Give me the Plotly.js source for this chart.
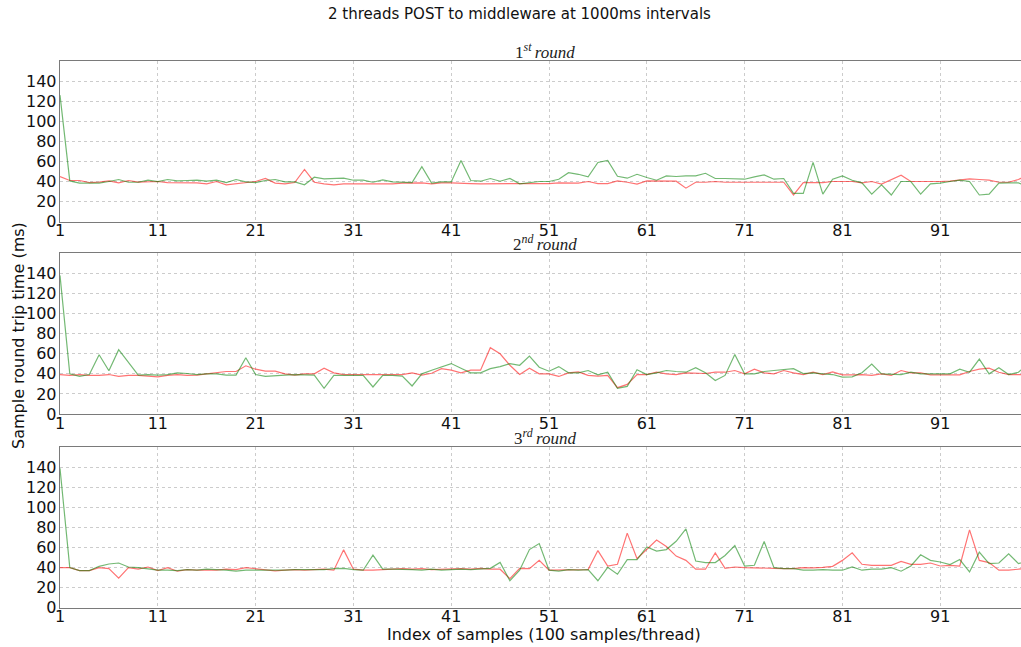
<!DOCTYPE html>
<html>
<head>
<meta charset="utf-8">
<script src="https://cdn.plot.ly/plotly-3.0.1.min.js"></script>
<style>html,body{margin:0;padding:0;background:#fff;}#chart{width:1021px;height:647px;}</style>
</head>
<body>
<div id="chart"></div>
<script>
// sample index 1..100
const sampleIndex = Array.from({length: 100}, (_, i) => i + 1);
const xTickVals = [1, 11, 21, 31, 41, 51, 61, 71, 81, 91];
const yTickVals = [0, 20, 40, 60, 80, 100, 120, 140];
const roundTitles = ["1<sup><i>st</i></sup>&#8201;<i>round</i>", "2<sup><i>nd</i></sup>&#8201;<i>round</i>", "3<sup><i>rd</i></sup>&#8201;<i>round</i>"];

// Round 1
const round1Red = [45, 41, 41, 39, 39.5, 40.6, 38.7, 41, 39.5, 39.6, 40, 39, 39, 38.7, 38.7, 37.7, 40, 36.7, 37.7, 39.3,
  40, 43, 38.4, 37.7, 39, 52, 39.3, 37.7, 36.7, 37.7, 37.7, 37.7, 37.7, 37.7, 37.7, 38.5, 38.7, 38.7, 37.7, 38.7,
  38.7, 38.7, 38, 37.7, 37.7, 37.7, 37.7, 37.7, 37.7, 38,
  38, 38.7, 38.4, 38.4, 40, 38, 38, 40.6, 39.3, 37.4, 40.6, 40.3, 40.3, 40.3, 33.4, 39.3, 39.3, 40, 39.3, 39.3,
  39.3, 40, 40, 39.3, 39.3, 26.6, 39, 39, 39, 40, 40, 40, 38.7, 40, 37.4, 42, 46.2, 40, 40, 39.3,
  40, 40.3, 41.3, 42.6, 42, 41.3, 39.3, 39.3, 42, 47];
const round1Green = [126, 40.6, 38.4, 38.4, 38.4, 40, 42, 39.3, 39.3, 41.3, 40, 42, 40.6, 41, 41.3, 40.3, 41.3, 39, 42, 39.6,
  39, 41, 42, 39.6, 39.6, 36.7, 44.3, 42.6, 42.6, 43.3, 41.3, 41.3, 39.3, 41.6, 39.6, 39.6, 39, 54.8, 38.4, 39.6,
  39.6, 61, 41, 40.3, 43, 40.3, 43, 37.7, 39, 40,
  40, 42.3, 48.8, 47.2, 44.6, 59, 61, 45.2, 43.3, 47.2, 44, 41.3, 45.6, 45, 45.6, 45.6, 48.2, 43, 43, 43,
  42.3, 44.6, 46.6, 42.3, 43, 28.2, 28.2, 59, 27.5, 42.3, 45.6, 41.3, 38.7, 27.5, 36.7, 26.6, 40, 40, 27.5, 37.7,
  38.4, 40, 41.3, 40, 26.6, 27.5, 38.4, 38.7, 38.7, 35];

// Round 2
const round2Red = [39.3, 38.4, 39.3, 38.4, 38.4, 39.3, 37.4, 38.4, 38.4, 37.7, 37, 38.4, 39.3, 38.4, 38.7, 40, 41, 42.3, 42.3, 48,
  44.6, 42.6, 42.6, 40, 38.7, 40, 40, 45.6, 41, 39.3, 39.3, 39.3, 40, 39.3, 39.3, 39.3, 41, 38.7, 40.6, 45.2,
  43.6, 41, 43.6, 43.6, 66, 60, 48.5, 39.3, 45.6, 40,
  40, 37.4, 41, 42, 38.4, 37.7, 38.4, 26.2, 29.5, 39.3, 39.3, 41.6, 40, 39.3, 41, 40.3, 40.3, 41.6, 41.6, 43.3,
  40, 44.6, 41, 40, 43.3, 41, 39.3, 41.6, 39.3, 42, 39, 39, 39.3, 38.4, 40, 38.4, 43.3, 41, 41, 39,
  39, 39, 39, 42.3, 44.6, 45.6, 41.6, 39.3, 39.3, 39.3];
const round2Green = [138, 40, 37.4, 39.3, 59, 43, 64, 51.8, 38.7, 39.3, 38.7, 39.3, 41, 40.3, 39.3, 40, 40, 38.7, 38.7, 56,
  39.3, 37.4, 38.4, 38.7, 39.3, 38.7, 38.7, 25.6, 38.4, 38.4, 38.4, 38.4, 26.9, 38.4, 38.4, 37.7, 27.9, 40, 43.6, 47.2,
  50.2, 45.6, 41, 41, 45.2, 47.2, 50.2, 48.5, 57.7, 46.6,
  42.6, 47.2, 41, 41, 43.3, 39, 41.6, 25.6, 27.5, 44, 39.3, 41, 43.3, 42.3, 41.6, 46.2, 41, 33.4, 38.4, 59.3,
  40, 40, 42.3, 43.3, 44.3, 45.2, 40.3, 41, 40, 39.3, 36.7, 37, 41, 49.8, 40, 39.3, 39.3, 41.6, 40, 40,
  40, 40, 44.6, 41.6, 54.7, 40, 46, 39.3, 41.6, 49.8];

// Round 3
const round3Red = [40, 40, 37, 37, 40, 39, 29.5, 40, 38.4, 40.6, 37, 40, 36.4, 38, 37.4, 37.4, 37.4, 38.4, 38, 40,
  39, 38.4, 36.7, 37.4, 38, 37.4, 38, 38.4, 37.4, 57.7, 38.4, 37.4, 37.4, 38, 38.4, 39, 38.4, 39, 38, 38.4,
  39.3, 39, 38.4, 39.3, 38.4, 38.4, 29, 39.3, 39, 47.2,
  37.4, 37.4, 37.4, 37.4, 38, 57, 41.6, 43.3, 74.4, 48.8, 57.7, 67.5, 61, 51.5, 47.2, 38.4, 38.4, 54.7, 39.3, 40.6,
  40, 40, 39.7, 39.3, 39, 39, 40, 39.7, 40.3, 41.3, 47.2, 54.7, 43.3, 42.3, 42.3, 42.3, 46.2, 43.3, 43.3, 44.6,
  41.6, 42.3, 41.6, 77.7, 47.2, 45, 37.4, 37.4, 38.4, 40];
const round3Green = [139, 40, 37, 37, 41.3, 43.6, 44.6, 40.6, 40, 38.4, 37.4, 37.4, 37, 38, 37.4, 38.4, 38, 37.4, 36.4, 37.4,
  37.4, 37.4, 36.7, 37.4, 38, 38, 38.4, 38, 39, 39.3, 38, 37.4, 52.5, 38.4, 38.4, 38.4, 38, 37.4, 38.4, 37.4,
  38, 38.4, 38, 38.4, 39.3, 45.2, 26.9, 37.4, 58, 64,
  37.4, 36.4, 38, 37.4, 38, 26.9, 40.3, 33.4, 48, 48, 60.6, 56.4, 58, 66.2, 78.6, 46.6, 45, 45, 52.1, 62,
  41.6, 42.3, 66, 40, 39, 39, 37.4, 37.4, 38, 37.4, 37.4, 40.6, 37.4, 38.4, 38.4, 40, 36.4, 41.6, 52.8, 47.2,
  45.6, 43, 48, 35.7, 55.4, 44, 44.6, 53.8, 44, 47];

const reds = [round1Red, round2Red, round3Red];
const greens = [round1Green, round2Green, round3Green];

const H = 647;
const panelPx = [[61, 221.7], [253.3, 414], [447.3, 607.7]];
const domains = panelPx.map(p => [(H - p[1]) / H, (H - p[0]) / H]);

const RED = 'rgba(255,0,0,0.55)';
const GREEN = 'rgba(0,128,0,0.55)';

const traces = [];
const layout = {
  width: 1021, height: 647,
  margin: {l: 60, r: 0, t: 0, b: 0},
  paper_bgcolor: '#fff', plot_bgcolor: '#fff',
  showlegend: false,
  font: {family: 'DejaVu Sans', color: '#000'},
  annotations: [],
};

for (let i = 0; i < 3; i++) {
  const n = i === 0 ? '' : String(i + 1);
  traces.push({x: sampleIndex, y: reds[i], type: 'scatter', mode: 'lines',
    line: {color: RED, width: 1.2}, xaxis: 'x' + n, yaxis: 'y' + n, hoverinfo: 'skip'});
  traces.push({x: sampleIndex, y: greens[i], type: 'scatter', mode: 'lines',
    line: {color: GREEN, width: 1.2}, xaxis: 'x' + n, yaxis: 'y' + n, hoverinfo: 'skip'});
  layout['xaxis' + n] = {
    domain: [0, 1], range: [1, 1 + (1021 - 60) / 9.78], anchor: 'y' + n,
    tickvals: xTickVals, ticktext: xTickVals.map(String),
    showgrid: true, gridcolor: '#cccccc', griddash: 'dot', gridwidth: 1,
    showline: true, linecolor: '#7a7a7a', linewidth: 1.3, mirror: true,
    ticks: '', zeroline: false, automargin: false, ticklabelstandoff: -6,
    tickfont: {family: 'DejaVu Sans', size: 16, color: '#111'},
  };
  layout['yaxis' + n] = {
    domain: domains[i], range: [0, 160], anchor: 'x' + n,
    tickvals: yTickVals, ticktext: yTickVals.map(String),
    showgrid: true, gridcolor: '#cccccc', griddash: 'dot', gridwidth: 1,
    showline: true, linecolor: '#7a7a7a', linewidth: 1.3, mirror: false,
    ticks: '', zeroline: false, automargin: false, ticklabelstandoff: -1,
    tickfont: {family: 'DejaVu Sans', size: 16, color: '#111'},
  };
  layout.annotations.push({
    text: roundTitles[i], xref: 'paper', yref: 'paper',
    x: (545 - 60) / 961, y: domains[i][1], xanchor: 'center', yanchor: 'bottom', yshift: -3,
    showarrow: false, font: {family: 'Liberation Serif', size: 17, color: '#222'}
  });
}

layout.annotations.push({
  text: '2 threads POST to middleware at 1000ms intervals', xref: 'paper', yref: 'paper',
  x: (519 - 60) / 961, y: (H - 14) / H, xanchor: 'center', yanchor: 'middle',
  showarrow: false, font: {family: 'DejaVu Sans', size: 15, color: '#111'}
});
layout.annotations.push({
  text: 'Sample round trip time (ms)', xref: 'paper', yref: 'paper',
  x: (18 - 60) / 961, y: (H - 336) / H, xanchor: 'center', yanchor: 'middle', textangle: -90,
  showarrow: false, font: {family: 'DejaVu Sans', size: 16, color: '#111'}
});
layout.annotations.push({
  text: 'Index of samples (100 samples/thread)', xref: 'paper', yref: 'paper',
  x: (544 - 60) / 961, y: (H - 634) / H, xanchor: 'center', yanchor: 'middle',
  showarrow: false, font: {family: 'DejaVu Sans', size: 16, color: '#111'}
});

Plotly.newPlot('chart', traces, layout, {displayModeBar: false, staticPlot: true});
</script>
</body>
</html>
